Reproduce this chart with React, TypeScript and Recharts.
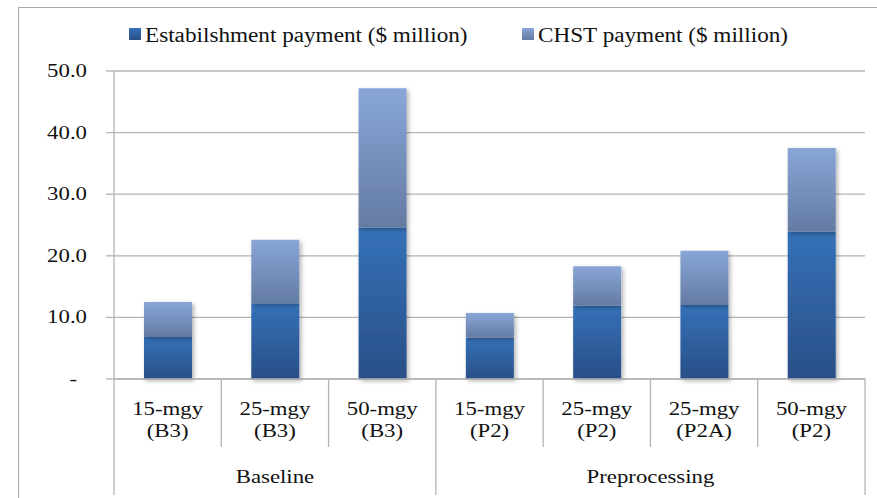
import React from "react"
import {
  BarChart,
  Bar,
  XAxis,
  YAxis,
  CartesianGrid,
  Legend,
} from "recharts"

const sizes = ["15-mgy", "25-mgy", "50-mgy", "15-mgy", "25-mgy", "25-mgy", "50-mgy"]
const scenarios = ["(B3)", "(B3)", "(B3)", "(P2)", "(P2)", "(P2A)", "(P2)"]
const groups = [
  "Baseline",
  "Baseline",
  "Baseline",
  "Preprocessing",
  "Preprocessing",
  "Preprocessing",
  "Preprocessing",
]
const establishment = [6.8, 12.3, 24.6, 6.7, 11.9, 12.0, 23.9]
const chst = [5.7, 10.3, 22.6, 4.0, 6.4, 8.8, 13.6]
const yTicks = [0, 10, 20, 30, 40, 50]
const seriesKeys = ["est", "chst"]

const data = sizes.map((s, i) => ({
  key: `${s} ${scenarios[i]}`,
  index: i,
  est: establishment[i],
  chst: chst[i],
}))

const W = 877
const H = 498
const PLOT_LEFT = 114
const PLOT_RIGHT = 865
const PLOT_BOTTOM = 379
const BAND = (PLOT_RIGHT - PLOT_LEFT) / sizes.length
const FONT = "'Liberation Serif', 'Times New Roman', serif"
const GRID = "#b4b4b4"
const SX = 1.2

const Label = ({ x, y, text, anchor = "middle" }: any) => (
  <text
    transform={`translate(${x},${y}) scale(${SX},1)`}
    textAnchor={anchor}
    fontFamily={FONT}
    fontSize={19}
    fill="#111"
  >
    {text}
  </text>
)

const XTick = ({ x, payload }: any) => {
  const i = payload.index
  const g = groups[i]
  const first = groups.indexOf(g)
  const last = groups.lastIndexOf(g)
  const sep = (sx: number, long: boolean) => (
    <line
      x1={sx}
      x2={sx}
      y1={PLOT_BOTTOM}
      y2={long ? 495 : 447}
      stroke={GRID}
      strokeWidth={1.3}
    />
  )
  return (
    <g>
      <Label x={x} y={415} text={sizes[i]} />
      <Label x={x} y={437} text={scenarios[i]} />
      {sep(x - BAND / 2, i === first)}
      {i === sizes.length - 1 && sep(x + BAND / 2, true)}
      {i === first && (
        <Label x={x + ((first + last) / 2 - i) * BAND} y={483} text={g} />
      )}
    </g>
  )
}

const YTick = ({ y, payload }: any) =>
  payload.value === 0 ? (
    <Label x={77} y={y + 6} text="-" anchor="end" />
  ) : (
    <Label x={87} y={y + 6} text={payload.value.toFixed(1)} anchor="end" />
  )

const legendPos = [
  { box: 129, text: 145 },
  { box: 522, text: 538 },
]

const renderLegend = ({ payload }: any) => {
  const items = [...(payload || [])].sort(
    (a: any, b: any) => seriesKeys.indexOf(a.dataKey) - seriesKeys.indexOf(b.dataKey)
  )
  return (
    <svg width={W} height={50} style={{ display: "block", overflow: "visible" }}>
      {items.map((p: any, i: number) => (
        <g key={p.value}>
          <rect
            x={legendPos[i].box}
            y={28}
            width={12}
            height={12}
            fill={p.dataKey === "est" ? "url(#estGrad)" : "url(#chstGrad)"}
          />
          <text
            transform={`translate(${legendPos[i].text},41.5) scale(1.16,1)`}
            fontFamily={FONT}
            fontSize={20}
            fill="#111"
          >
            {p.value}
          </text>
        </g>
      ))}
    </svg>
  )
}

export default function App() {
  return (
    <div style={{ position: "absolute", left: 0, top: 0, width: W, height: H, background: "#fff" }}>
      <div
        style={{
          position: "absolute",
          left: 18,
          top: 7,
          width: W,
          height: H,
          borderLeft: "1.5px solid #a8a8a8",
          borderTop: "1.5px solid #a8a8a8",
          pointerEvents: "none",
        }}
      />
      <BarChart
        width={W}
        height={H}
        data={data}
        margin={{ top: 21, right: W - PLOT_RIGHT, bottom: 0, left: 0 }}
        barSize={48}
      >
        <defs>
          <linearGradient id="estGrad" x1="0" y1="0" x2="0" y2="1">
            <stop offset="0%" stopColor="#3571b8" />
            <stop offset="100%" stopColor="#294f87" />
          </linearGradient>
          <linearGradient id="chstGrad" x1="0" y1="0" x2="0" y2="1">
            <stop offset="0%" stopColor="#89a6d7" />
            <stop offset="100%" stopColor="#647ba3" />
          </linearGradient>
          <filter id="barShadow" x="-20%" y="-20%" width="150%" height="150%">
            <feDropShadow dx="2" dy="2" stdDeviation="2" floodColor="#000" floodOpacity="0.3" />
          </filter>
        </defs>
        <Legend
          verticalAlign="top"
          content={renderLegend}
          wrapperStyle={{ top: 0, left: 0, width: W, height: 50 }}
        />
        <CartesianGrid vertical={false} stroke={GRID} strokeWidth={1.3} />
        <XAxis
          dataKey="key"
          height={H - PLOT_BOTTOM}
          axisLine={{ stroke: GRID, strokeWidth: 1.3 }}
          tickLine={false}
          tick={<XTick />}
          interval={0}
        />
        <YAxis
          width={PLOT_LEFT}
          domain={[0, 50]}
          ticks={yTicks}
          axisLine={{ stroke: GRID, strokeWidth: 1.3 }}
          tickLine={{ stroke: GRID, strokeWidth: 1.3 }}
          tickSize={8}
          tick={<YTick />}
        />
        <Bar
          dataKey="est"
          name="Estabilshment payment ($ million)"
          stackId="a"
          fill="url(#estGrad)"
          filter="url(#barShadow)"
          isAnimationActive={false}
        />
        <Bar
          dataKey="chst"
          name="CHST payment ($ million)"
          stackId="a"
          fill="url(#chstGrad)"
          filter="url(#barShadow)"
          isAnimationActive={false}
        />
      </BarChart>
    </div>
  )
}
